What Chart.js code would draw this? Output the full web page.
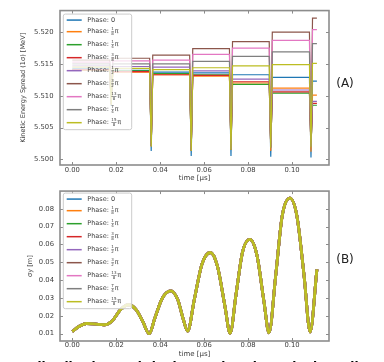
<!DOCTYPE html>
<html>
<head>
<meta charset="utf-8">
<script src="https://cdn.jsdelivr.net/npm/chart.js@4.4.1/dist/chart.umd.min.js"></script>
<style>
  html, body { margin: 0; padding: 0; background: #fff; }
  body { width: 384px; height: 362px; position: relative; overflow: hidden; font-family: "DejaVu Sans", sans-serif; }
  .panel { position: absolute; left: 0; width: 384px; }
  #top-panel { top: 0; height: 182px; }
  #bottom-panel { top: 181px; height: 181px; }
  .tag { position: absolute; font-size: 12px; color: #222; transform: translate(-50%, -50%); }
  #caption { position: absolute; left: 33px; top: 360.5px; font-size: 12px; line-height: 12px; font-weight: bold; white-space: nowrap; color: #000; }
</style>
</head>
<body>
<div class="panel" id="top-panel"><canvas id="energy-chart"></canvas></div>
<div class="panel" id="bottom-panel"><canvas id="sigma-chart"></canvas></div>
<div class="tag" style="left:345px; top:83px;">(A)</div>
<div class="tag" style="left:345px; top:259px;">(B)</div>
<div id="caption">distribution and the beam size along the beamline with the injection phase</div>
<script>
// Legend entries and colours (matplotlib tab10)
const phaseLabels = [
  'Phase: 0', 'Phase: 1/8π', 'Phase: 1/4π', 'Phase: 3/8π', 'Phase: 1/2π',
  'Phase: 3/2π', 'Phase: 13/8π', 'Phase: 7/4π', 'Phase: 15/8π',
];
const phaseColors = [
  '#1f77b4', '#ff7f0e', '#2ca02c', '#d62728', '#9467bd',
  '#8c564b', '#e377c2', '#7f7f7f', '#bcbd22',
];

// (A) step times [us]
const segmentStarts = [0, 0.0177, 0.0359, 0.0541, 0.0722, 0.0903, 0.1086];
const endTime = 0.1113;

// (A) energy spread level in each segment [MeV], one row per phase
const energyLevels = [
  [5.5143, 5.5140, 5.5137, 5.5136, 5.5133, 5.5129, 5.5123],
  [5.5140, 5.5137, 5.5133, 5.5131, 5.5120, 5.5112, 5.5101],
  [5.5141, 5.5139, 5.5135, 5.5133, 5.5118, 5.5104, 5.5085],
  [5.5141, 5.5138, 5.5133, 5.5132, 5.5122, 5.5106, 5.5088],
  [5.5147, 5.5146, 5.5145, 5.5139, 5.5126, 5.5109, 5.5091],
  [5.5156, 5.5159, 5.5164, 5.5174, 5.5185, 5.5200, 5.5222],
  [5.5153, 5.5155, 5.5156, 5.5165, 5.5175, 5.5187, 5.5204],
  [5.5150, 5.5150, 5.5150, 5.5154, 5.5162, 5.5169, 5.5182],
  [5.5145, 5.5143, 5.5141, 5.5144, 5.5147, 5.5149, 5.5151],
];

// (A) minimum of the dip at each step [MeV], one row per phase
const energyDips = [
  [5.5084, 5.5013, 5.5005, 5.5005, 5.5004, 5.5003],
  [5.5086, 5.5020, 5.5013, 5.5015, 5.5013, 5.5012],
  [5.5087, 5.5021, 5.5014, 5.5016, 5.5019, 5.5020],
  [5.5087, 5.5021, 5.5014, 5.5016, 5.5019, 5.5020],
  [5.5087, 5.5021, 5.5014, 5.5016, 5.5019, 5.5020],
  [5.5087, 5.5021, 5.5014, 5.5016, 5.5019, 5.5020],
  [5.5087, 5.5021, 5.5014, 5.5016, 5.5019, 5.5020],
  [5.5087, 5.5021, 5.5014, 5.5016, 5.5019, 5.5020],
  [5.5086, 5.5020, 5.5013, 5.5015, 5.5018, 5.5019],
];

// (B) beam size sigma_y [m] vs time [us]
const sigmaTime = [
  0.000, 0.003, 0.0065, 0.010, 0.0145, 0.018, 0.022, 0.0255, 0.029, 0.032,
  0.035, 0.0375, 0.041, 0.0448, 0.048, 0.0505, 0.0525, 0.0555, 0.059, 0.0628,
  0.066, 0.0695, 0.0718, 0.0745, 0.0775, 0.0808, 0.084, 0.0872, 0.0895, 0.0925,
  0.0955, 0.0990, 0.1022, 0.1055, 0.1082, 0.1113,
];
const sigmaY = [
  0.0112, 0.0140, 0.0157, 0.0155, 0.0150, 0.0170, 0.0235, 0.0262, 0.0235, 0.0170,
  0.0100, 0.0185, 0.0300, 0.0340, 0.0290, 0.0180, 0.0115, 0.0290, 0.0490, 0.0555,
  0.0480, 0.0250, 0.0102, 0.0320, 0.0560, 0.0628, 0.0540, 0.0280, 0.0105, 0.0420,
  0.0760, 0.0860, 0.0760, 0.0420, 0.0110, 0.0460,
];

// Tick labels
const timeTicks = [0, 0.02, 0.04, 0.06, 0.08, 0.10];
const energyTicks = [5.500, 5.505, 5.510, 5.515, 5.520];
const sigmaTicks = [0.01, 0.02, 0.03, 0.04, 0.05, 0.06, 0.07, 0.08];

const FONT = '"DejaVu Sans", sans-serif';
const textColor = '#3c3c3c';
const spineColor = '#8c8c8c';
const dipHalfWidth = 0.0007;

// Build the step line of one phase: flat segments with a narrow dip at every step
const stepPoints = (levels, dips) => {
  const pts = [];
  levels.forEach((v, i) => {
    const from = i === 0 ? segmentStarts[0] : segmentStarts[i] + dipHalfWidth;
    const to = i < levels.length - 1 ? segmentStarts[i + 1] - dipHalfWidth : endTime;
    pts.push({ x: from, y: v }, { x: to, y: v });
    if (i < dips.length) pts.push({ x: segmentStarts[i + 1], y: dips[i] });
  });
  return pts;
};

// Legend label with a small stacked fraction, like mathtext \frac
const drawLabel = (ctx, text, x, y, size) => {
  const m = text.match(/^(.*?)(\d+)\/(\d+)(π)$/);
  ctx.fillStyle = textColor;
  ctx.textBaseline = 'middle';
  ctx.textAlign = 'left';
  ctx.font = `${size}px ${FONT}`;
  if (!m) {
    ctx.fillText(text, x, y);
    return;
  }
  ctx.fillText(m[1], x, y);
  let cx = x + ctx.measureText(m[1]).width;
  const small = size * 0.62;
  ctx.font = `${small}px ${FONT}`;
  const fw = Math.max(ctx.measureText(m[2]).width, ctx.measureText(m[3]).width);
  ctx.textAlign = 'center';
  ctx.fillText(m[2], cx + 0.4 + fw / 2, y - small * 0.62);
  ctx.fillText(m[3], cx + 0.4 + fw / 2, y + small * 0.68);
  ctx.fillRect(cx + 0.4, y - 0.25, fw, 0.5);
  cx += fw + 1.2;
  ctx.textAlign = 'left';
  ctx.font = `${size}px ${FONT}`;
  ctx.fillText(m[4], cx, y);
};

// Frame on all four sides with inward ticks, as matplotlib draws them
const frameTicks = {
  id: 'frameTicks',
  afterDatasetsDraw(c) {
    const { ctx, chartArea: a } = c;
    const x = c.scales.x;
    const y = c.scales.y;
    ctx.save();
    ctx.strokeStyle = spineColor;
    ctx.lineWidth = 1;
    ctx.beginPath();
    x.ticks.forEach((t) => {
      const px = Math.round(x.getPixelForValue(t.value)) + 0.5;
      ctx.moveTo(px, a.bottom); ctx.lineTo(px, a.bottom - 3);
      ctx.moveTo(px, a.top); ctx.lineTo(px, a.top + 3);
    });
    y.ticks.forEach((t) => {
      const py = Math.round(y.getPixelForValue(t.value)) + 0.5;
      ctx.moveTo(a.left, py); ctx.lineTo(a.left + 3, py);
      ctx.moveTo(a.right, py); ctx.lineTo(a.right - 3, py);
    });
    ctx.stroke();
    ctx.lineWidth = 1.6;
    ctx.strokeRect(a.left, a.top, a.right - a.left, a.bottom - a.top);
    ctx.restore();
  },
};

// Legend box inside the plot, upper left
const insetLegend = {
  id: 'insetLegend',
  afterDraw(c, args, options) {
    const { ctx, chartArea: a } = c;
    const left = a.left + 3.3;
    const top = a.top + options.offset;
    const rowY = (i) => top + 6 + (i === 0 ? 0 : 11.6 + (i - 1) * 13);
    const h = rowY(phaseLabels.length - 1) + 7 - top;
    ctx.save();
    ctx.fillStyle = 'rgba(255,255,255,0.8)';
    ctx.strokeStyle = '#cccccc';
    ctx.lineWidth = 1;
    ctx.beginPath();
    ctx.roundRect(left, top, 68.4, h, 2);
    ctx.fill();
    ctx.stroke();
    phaseLabels.forEach((label, i) => {
      const yy = rowY(i);
      ctx.strokeStyle = phaseColors[i];
      ctx.lineWidth = options.lineWidth;
      ctx.beginPath();
      ctx.moveTo(left + 3.4, yy);
      ctx.lineTo(left + 18.4, yy);
      ctx.stroke();
      drawLabel(ctx, label, left + 24, yy, 6.5);
    });
    ctx.restore();
  },
};

const axisBase = (ticks, min, max, digits, title, fixedSize) => ({
  type: 'linear',
  min,
  max,
  afterBuildTicks: (s) => { s.ticks = ticks.map((v) => ({ value: v })); },
  afterFit: (s) => {
    if (s.isHorizontal()) s.height = fixedSize; else s.width = fixedSize;
  },
  grid: { display: false, drawTicks: false },
  border: { display: false },
  ticks: {
    color: textColor,
    font: { family: FONT, size: 6.8 },
    callback: (v) => Number(v).toFixed(digits),
  },
  title: {
    display: true,
    text: title.text,
    color: textColor,
    font: { family: FONT, size: title.size },
    padding: title.padding,
  },
});

// (A) kinetic energy spread
const energyX = axisBase(timeTicks, -0.0056, 0.1168, 2,
  { text: 'time [μs]', size: 7, padding: { top: 0, bottom: 0 } }, 17);
energyX.ticks.padding = 1;
const energyY = axisBase(energyTicks, 5.4991, 5.5234, 3,
  { text: 'Kinetic Energy Spread (1σ) [MeV]', size: 6.6, padding: { top: 19.5, bottom: 0 } }, 60);
energyY.ticks.padding = 6.5;

new Chart(document.getElementById('energy-chart'), {
  type: 'line',
  data: {
    datasets: phaseLabels.map((label, i) => ({
      label,
      data: stepPoints(energyLevels[i], energyDips[i]),
      borderColor: phaseColors[i],
      borderWidth: 1.2,
      pointRadius: 0,
      tension: 0,
      order: phaseLabels.length - 1 - i,
    })),
  },
  options: {
    responsive: true,
    maintainAspectRatio: false,
    animation: false,
    parsing: false,
    layout: { padding: { top: 8, right: 55, left: 0, bottom: 0 } },
    scales: { x: energyX, y: energyY },
    plugins: {
      legend: { display: false },
      tooltip: { enabled: false },
      insetLegend: { offset: 3.5, lineWidth: 1.5 },
    },
  },
  plugins: [frameTicks, insetLegend],
});

// (B) beam size
const sigmaX = axisBase(timeTicks, -0.0056, 0.1168, 2,
  { text: 'time [μs]', size: 7, padding: { top: 0, bottom: 3.6 } }, 21);
sigmaX.ticks.padding = 0;
const sigmaYAxis = axisBase(sigmaTicks, 0.0059, 0.0899, 2,
  { text: 'σy [m]', size: 6.6, padding: { top: 26.5, bottom: 0 } }, 60);
sigmaYAxis.ticks.padding = 6;

new Chart(document.getElementById('sigma-chart'), {
  type: 'line',
  data: {
    labels: sigmaTime,
    datasets: phaseLabels.map((label, i) => ({
      label,
      data: sigmaTime.map((t, k) => ({ x: t, y: sigmaY[k] })),
      borderColor: phaseColors[i],
      borderWidth: 2.8,
      pointRadius: 0,
      cubicInterpolationMode: 'monotone',
      order: phaseLabels.length - 1 - i,
    })),
  },
  options: {
    responsive: true,
    maintainAspectRatio: false,
    animation: false,
    parsing: false,
    layout: { padding: { top: 4, right: 55, left: 0, bottom: 0 } },
    scales: { x: sigmaX, y: sigmaYAxis },
    plugins: {
      legend: { display: false },
      tooltip: { enabled: false },
      insetLegend: { offset: 2, lineWidth: 1.5 },
    },
  },
  plugins: [frameTicks, insetLegend],
});
</script>
</body>
</html>
